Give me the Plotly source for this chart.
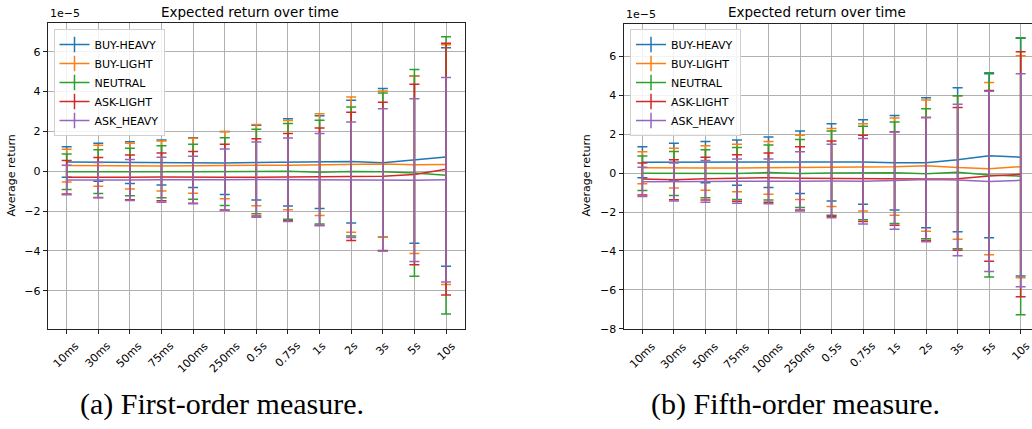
import plotly.graph_objects as go

# ---------------- data (values in units of 1e-5) ----------------
categories = ["10ms", "30ms", "50ms", "75ms", "100ms", "250ms", "0.5s",
              "0.75s", "1s", "2s", "3s", "5s", "10s"]
series_names = ["BUY-HEAVY", "BUY-LIGHT", "NEUTRAL", "ASK-LIGHT", "ASK_HEAVY"]
colors = ["#1f77b4", "#ff7f0e", "#2ca02c", "#d62728", "#9467bd"]

# (a) first-order measure
first_buy_heavy_mean = [0.46, 0.45, 0.43, 0.43, 0.43, 0.41, 0.43, 0.44, 0.45, 0.48, 0.42, 0.58, 0.71]
first_buy_heavy_err = [0.77, 0.95, 1.05, 1.13, 1.25, 1.58, 1.88, 2.19, 2.33, 3.08, 3.73, 4.20, 5.48]
first_buy_light_mean = [0.28, 0.27, 0.25, 0.26, 0.27, 0.30, 0.30, 0.30, 0.33, 0.33, 0.36, 0.32, 0.33]
first_buy_light_err = [0.82, 1.03, 1.15, 1.26, 1.38, 1.68, 2.04, 2.24, 2.55, 3.39, 3.67, 4.45, 6.02]
first_neutral_mean = [-0.03, -0.02, -0.04, -0.03, -0.03, -0.02, -0.02, -0.01, -0.05, -0.02, -0.03, -0.09, -0.21]
first_neutral_err = [0.89, 1.10, 1.19, 1.30, 1.38, 1.70, 2.12, 2.40, 2.60, 3.24, 3.96, 5.19, 6.96]
first_ask_light_mean = [-0.31, -0.32, -0.31, -0.29, -0.31, -0.30, -0.31, -0.30, -0.28, -0.26, -0.26, -0.17, 0.10]
first_ask_light_err = [0.84, 1.00, 1.12, 1.20, 1.30, 1.65, 1.94, 2.19, 2.45, 3.22, 3.72, 4.53, 6.32]
first_ask_heavy_mean = [-0.44, -0.45, -0.44, -0.43, -0.44, -0.43, -0.42, -0.43, -0.42, -0.43, -0.44, -0.45, -0.43]
first_ask_heavy_err = [0.74, 0.89, 1.03, 1.13, 1.19, 1.54, 1.89, 2.10, 2.31, 2.90, 3.57, 4.08, 5.13]

# (b) fifth-order measure
fifth_buy_heavy_mean = [0.56, 0.565, 0.565, 0.54, 0.555, 0.555, 0.55, 0.57, 0.535, 0.53, 0.685, 0.89, 0.82]
fifth_buy_heavy_err = [0.80, 0.965, 1.055, 1.16, 1.295, 1.605, 1.98, 2.17, 2.425, 3.34, 3.695, 4.21, 6.11]
fifth_buy_light_mean = [0.28, 0.26, 0.26, 0.26, 0.27, 0.30, 0.29, 0.29, 0.33, 0.38, 0.285, 0.23, 0.33]
fifth_buy_light_err = [0.82, 1.02, 1.14, 1.22, 1.35, 1.65, 2.00, 2.24, 2.50, 3.37, 3.685, 4.42, 5.70]
fifth_neutral_mean = [-0.01, -0.02, -0.03, -0.02, 0.03, -0.02, 0.0, 0.01, 0.02, -0.035, 0.04, -0.095, -0.16]
fifth_neutral_err = [0.885, 1.135, 1.23, 1.33, 1.415, 1.75, 2.16, 2.40, 2.61, 3.335, 3.93, 5.245, 7.11]
fifth_ask_light_mean = [-0.30, -0.34, -0.285, -0.255, -0.235, -0.27, -0.285, -0.27, -0.28, -0.30, -0.295, -0.145, -0.06]
fifth_ask_light_err = [0.825, 1.03, 1.095, 1.195, 1.265, 1.63, 1.935, 2.22, 2.40, 3.16, 3.665, 4.385, 6.29]
fifth_ask_heavy_mean = [-0.45, -0.455, -0.425, -0.415, -0.43, -0.42, -0.405, -0.415, -0.385, -0.33, -0.35, -0.425, -0.37]
fifth_ask_heavy_err = [0.755, 0.975, 1.075, 1.135, 1.15, 1.52, 1.885, 2.195, 2.50, 3.19, 3.89, 4.625, 5.47]

first_means = [first_buy_heavy_mean, first_buy_light_mean, first_neutral_mean,
               first_ask_light_mean, first_ask_heavy_mean]
first_errs = [first_buy_heavy_err, first_buy_light_err, first_neutral_err,
              first_ask_light_err, first_ask_heavy_err]
fifth_means = [fifth_buy_heavy_mean, fifth_buy_light_mean, fifth_neutral_mean,
               fifth_ask_light_mean, fifth_ask_heavy_mean]
fifth_errs = [fifth_buy_heavy_err, fifth_buy_light_err, fifth_neutral_err,
              fifth_ask_light_err, fifth_ask_heavy_err]

title_text = "Expected return over time"
ylabel_text = "Average return"
offset_text = "1e\u22125"
captions = ["(a) First-order measure.", "(b) Fifth-order measure."]

# ---------------- layout geometry ----------------
W, H = 1032, 429
def px_x(p):
    return p / W
def px_y(p):
    return 1 - p / H

FONT = "DejaVu Sans"
fig = go.Figure()

panels = [
    dict(xa="x", ya="y", means=first_means, errs=first_errs, legend="legend"),
    dict(xa="x2", ya="y2", means=fifth_means, errs=fifth_errs, legend="legend2"),
]

for p in panels:
    for name, color, m, e in zip(series_names, colors, p["means"], p["errs"]):
        fig.add_trace(go.Scatter(
            x=categories, y=m, mode="lines", name=name,
            line=dict(color=color, width=1.5),
            error_y=dict(type="data", array=e, visible=True, color=color,
                         thickness=1.5, width=5),
            xaxis=p["xa"], yaxis=p["ya"], showlegend=False, hoverinfo="skip"))
    for name, color in zip(series_names, colors):
        fig.add_trace(go.Scatter(
            x=[None], y=[None], mode="lines+markers", name=name,
            line=dict(color=color, width=1.5),
            marker=dict(symbol="line-ns-open", size=11,
                        line=dict(color=color, width=1.5)),
            xaxis=p["xa"], yaxis=p["ya"], legend=p["legend"], showlegend=True))

axis_common = dict(showgrid=True, gridcolor="#b0b0b0", gridwidth=1,
                   showline=True, linecolor="#222222", linewidth=1,
                   ticks="outside", ticklen=4, tickcolor="#222222",
                   zeroline=False,
                   tickfont=dict(family=FONT, size=11, color="black"))

left_dom = [px_x(47.7), px_x(465)]
right_dom = [px_x(623.5), 1.0]
ydom_left = [px_y(334), px_y(23)]
ydom_right = [px_y(334.3), px_y(24)]

fig.update_layout(
    width=W, height=H,
    margin=dict(l=0, r=0, t=0, b=0),
    paper_bgcolor="white", plot_bgcolor="white",
    xaxis=dict(domain=left_dom, anchor="y", type="category",
               categoryorder="array", categoryarray=categories,
               range=[-0.6, 12.6], mirror=True, showticklabels=False,
               **axis_common),
    yaxis=dict(domain=ydom_left, anchor="x", range=[-7.90, 7.457],
               tickvals=[-6, -4, -2, 0, 2, 4, 6], mirror=True, **axis_common),
    xaxis2=dict(domain=right_dom, anchor="y2", type="category",
                categoryorder="array", categoryarray=categories,
                range=[-0.6, 12.36], mirror=True, showticklabels=False,
                **axis_common),
    yaxis2=dict(domain=ydom_right, anchor="x2", range=[-8.0, 7.68],
                tickvals=[-8, -6, -4, -2, 0, 2, 4, 6], mirror=False, **axis_common),
    showlegend=True,
    legend=dict(x=px_x(53.5), y=px_y(29.5), xanchor="left", yanchor="top",
                bgcolor="rgba(255,255,255,0.85)", bordercolor="#d0d0d0",
                borderwidth=1, font=dict(family=FONT, size=11, color="black"),
                itemwidth=30, tracegroupgap=0),
    legend2=dict(x=px_x(630), y=px_y(29.5), xanchor="left", yanchor="top",
                 bgcolor="rgba(255,255,255,0.85)", bordercolor="#d0d0d0",
                 borderwidth=1, font=dict(family=FONT, size=11, color="black"),
                 itemwidth=30, tracegroupgap=0),
)

annotations = []
# titles
for cx in (249.7, 816.7):
    annotations.append(dict(text=title_text, x=px_x(cx), y=px_y(12.5), xref="paper",
                            yref="paper", xanchor="center", yanchor="middle",
                            showarrow=False, font=dict(family=FONT, size=13.5, color="black")))
# y-axis labels
for cx in (12, 587):
    annotations.append(dict(text=ylabel_text, x=px_x(cx), y=px_y(178.5), xref="paper",
                            yref="paper", xanchor="center", yanchor="middle",
                            textangle=-90, showarrow=False,
                            font=dict(family=FONT, size=11, color="black")))
# offset texts
for dom, ydom in ((left_dom, ydom_left), (right_dom, ydom_right)):
    annotations.append(dict(text=offset_text, x=dom[0], y=ydom[1], xref="paper",
                            yref="paper", xanchor="left", yanchor="bottom",
                            yshift=1, showarrow=False,
                            font=dict(family=FONT, size=11, color="black")))
# rotated x tick labels (centered on each tick, like matplotlib)
for xref, ydom in (("x", ydom_left), ("x2", ydom_right)):
    for c in categories:
        annotations.append(dict(text=c, x=c, y=ydom[0], xref=xref, yref="paper",
                                xanchor="center", yanchor="top", yshift=-8,
                                textangle=-45, showarrow=False,
                                font=dict(family=FONT, size=11, color="black")))
# captions
for cx, cap in zip((222, 795), captions):
    annotations.append(dict(text=cap, x=px_x(cx), y=px_y(411), xref="paper",
                            yref="paper", xanchor="center", yanchor="middle",
                            showarrow=False,
                            font=dict(family="Liberation Serif", size=30, color="black")))

fig.update_layout(annotations=annotations)
fig.write_html("out.html")
